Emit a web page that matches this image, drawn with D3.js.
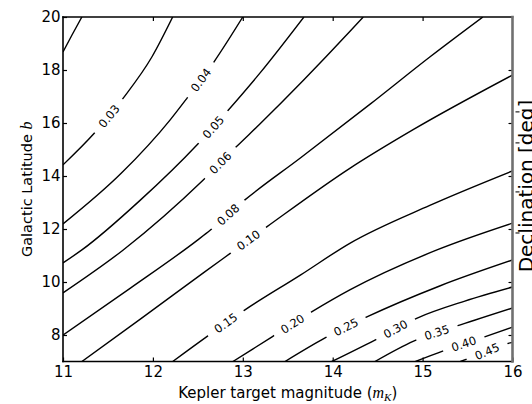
<!DOCTYPE html>
<html>
<head>
<meta charset="utf-8">
<script src="https://cdn.jsdelivr.net/npm/d3@7"></script>
<style>
  body { margin: 0; background: #fff; }
  svg { display: block; font-family: "DejaVu Sans", sans-serif; }
</style>
</head>
<body>
<svg id="chart" width="532" height="404"></svg>
<script>
// Contour levels of the fraction, and each level's traced line as [magnitude, galactic latitude]
const levels = [0.02, 0.03, 0.04, 0.05, 0.06, 0.08, 0.10, 0.15, 0.20, 0.25, 0.30, 0.35, 0.40, 0.45];

const line002 = [[11.00, 18.68], [11.10, 19.32], [11.21, 20.00]];
const line003 = [[11.00, 14.42], [11.35, 15.62], [11.67, 16.94], [11.99, 18.50], [12.22, 20.00]];
const line004 = [[11.00, 12.19], [11.65, 14.11], [12.19, 16.11], [12.38, 16.94], [12.68, 18.31], [13.00, 20.00]];
const line005 = [[11.00, 10.72], [11.21, 11.21], [11.86, 13.09], [12.50, 15.21], [12.84, 16.49], [13.19, 17.88], [13.68, 20.00]];
const line006 = [[11.00, 9.59], [11.67, 11.21], [12.56, 13.85], [12.93, 15.11], [13.19, 15.96], [14.19, 19.45], [14.34, 20.00]];
const line008 = [[11.00, 8.00], [11.75, 9.77], [12.50, 11.59], [12.64, 11.96], [13.02, 13.09], [13.64, 14.68], [14.42, 16.72], [15.08, 18.49], [15.67, 20.00]];
const line010 = [[11.21, 7.00], [11.86, 8.60], [12.58, 10.39], [12.86, 11.08], [13.27, 12.09], [14.19, 14.29], [14.89, 15.74], [16.00, 17.81]];
const line015 = [[12.22, 7.00], [12.60, 7.94], [13.02, 8.94], [13.64, 10.26], [14.19, 11.46], [15.08, 12.89], [16.00, 14.19]];
const line020 = [[12.89, 7.00], [13.33, 7.94], [13.77, 8.88], [14.19, 9.70], [15.16, 11.21], [16.00, 12.22]];
const line025 = [[13.47, 7.00], [13.91, 7.88], [14.38, 8.68], [15.19, 9.85], [16.00, 10.83]];
const line030 = [[13.99, 7.00], [14.47, 7.81], [14.94, 8.64], [15.47, 9.28], [16.00, 9.81]];
const line035 = [[14.47, 7.00], [14.90, 7.77], [15.42, 8.38], [16.00, 9.02]];
const line040 = [[14.92, 7.00], [15.23, 7.40], [15.69, 7.93], [16.00, 8.30]];
const line045 = [[15.42, 7.00], [15.71, 7.37], [15.88, 7.62], [16.00, 7.72]];

const contourLines = [line002, line003, line004, line005, line006, line008, line010,
                      line015, line020, line025, line030, line035, line040, line045];

// Where each inline level label sits: [level, magnitude, latitude]
const labelSpots = [
  [0.03, 11.51, 16.26], [0.04, 12.53, 17.62], [0.05, 12.67, 15.85], [0.06, 12.75, 14.49],
  [0.08, 12.84, 12.53], [0.10, 13.06, 11.59], [0.15, 12.81, 8.45], [0.20, 13.55, 8.42],
  [0.25, 14.15, 8.30], [0.30, 14.70, 8.23], [0.35, 15.16, 8.08], [0.40, 15.46, 7.66],
  [0.45, 15.72, 7.36]
];

// Axis ticks
const xTicks = [11, 12, 13, 14, 15, 16];
const yTicks = [8, 10, 12, 14, 16, 18, 20];
const declTickLat = [16.42, 15.25, 13.40, 11.85];

const W = 532, H = 404;
const plotLeft = 63, plotRight = 512.5, plotTop = 17, plotBottom = 361.5;

const svg = d3.select("#chart");
const x = d3.scaleLinear().domain([11, 16]).range([plotLeft, plotRight]);
const y = d3.scaleLinear().domain([7, 20]).range([plotBottom, plotTop]);

const defs = svg.append("defs");
defs.append("clipPath").attr("id", "plotClip")
  .append("rect").attr("x", plotLeft).attr("y", plotTop)
  .attr("width", plotRight - plotLeft).attr("height", plotBottom - plotTop);

const lineGen = d3.line()
  .x(d => x(d[0])).y(d => y(d[1]))
  .curve(d3.curveMonotoneX);

const plot = svg.append("g").attr("clip-path", "url(#plotClip)");
const labelLayer = svg.append("g")
  .attr("font-size", 11.5).attr("fill", "#000");

const fmt = d3.format(".2f");
const spotByLevel = new Map(labelSpots.map(s => [s[0], [s[1], s[2]]]));

levels.forEach((lv, i) => {
  const path = plot.append("path")
    .datum(contourLines[i])
    .attr("d", lineGen)
    .attr("fill", "none")
    .attr("stroke", "#000")
    .attr("stroke-width", 1.4)
    .attr("stroke-linecap", "butt");

  const spot = spotByLevel.get(lv);
  if (!spot) return;

  // snap the label onto the drawn line and follow its direction
  const node = path.node();
  const L = node.getTotalLength();
  const tx = x(spot[0]), ty = y(spot[1]);
  let best = 0, bd = Infinity;
  for (let s = 0; s <= L; s += 0.5) {
    const p = node.getPointAtLength(s);
    const d = (p.x - tx) ** 2 + (p.y - ty) ** 2;
    if (d < bd) { bd = d; best = s; }
  }
  const p = node.getPointAtLength(best);
  const a = node.getPointAtLength(Math.max(0, best - 5));
  const b = node.getPointAtLength(Math.min(L, best + 5));
  let ang = Math.atan2(b.y - a.y, b.x - a.x) * 180 / Math.PI;
  if (ang > 90) ang -= 180;
  if (ang < -90) ang += 180;

  const t = labelLayer.append("text")
    .attr("transform", `translate(${p.x},${p.y}) rotate(${ang})`)
    .attr("text-anchor", "middle")
    .attr("dy", "0.36em")
    .text(fmt(lv));
  const tw = t.node().getComputedTextLength();

  // cut a gap in the line under its label
  const gapW = tw + 18, gapH = 12;
  const m = defs.append("mask").attr("id", "gap" + i)
    .attr("maskUnits", "userSpaceOnUse")
    .attr("x", 0).attr("y", 0).attr("width", W).attr("height", H);
  m.append("rect").attr("x", 0).attr("y", 0).attr("width", W).attr("height", H).attr("fill", "#fff");
  m.append("rect")
    .attr("x", -gapW / 2).attr("y", -gapH / 2).attr("width", gapW).attr("height", gapH)
    .attr("transform", `translate(${p.x},${p.y}) rotate(${ang})`)
    .attr("fill", "#000");
  path.attr("mask", `url(#gap${i})`);
});

// Axes: inward ticks on all four sides
const tickStyle = g => {
  g.select(".domain").remove();
  g.selectAll(".tick line").attr("stroke", "#000").attr("stroke-width", 1.2);
  g.selectAll(".tick text").attr("font-family", "DejaVu Sans, sans-serif")
    .attr("font-size", 15).attr("fill", "#000");
};

svg.append("g").attr("transform", `translate(0,${plotBottom})`)
  .call(d3.axisBottom(x).tickValues(xTicks).tickFormat(d3.format("d"))
    .tickSizeInner(-4).tickSizeOuter(0).tickPadding(5))
  .call(tickStyle);

svg.append("g").attr("transform", `translate(0,${plotTop})`)
  .call(d3.axisTop(x).tickValues(xTicks.slice(1, -1)).tickFormat("")
    .tickSizeInner(-4).tickSizeOuter(0))
  .call(tickStyle);

svg.append("g").attr("transform", `translate(${plotLeft},0)`)
  .call(d3.axisLeft(y).tickValues(yTicks).tickFormat(d3.format("d"))
    .tickSizeInner(-4).tickSizeOuter(0).tickPadding(2.5))
  .call(tickStyle);

svg.append("g").attr("transform", `translate(${plotRight},0)`)
  .call(d3.axisRight(y).tickValues(yTicks.slice(0, -1)).tickFormat("")
    .tickSizeInner(-4).tickSizeOuter(0))
  .call(tickStyle);

// small outer ticks of the declination axis
svg.append("g").selectAll("line").data(declTickLat).join("line")
  .attr("x1", plotRight + 3).attr("x2", plotRight + 7)
  .attr("y1", d => y(d)).attr("y2", d => y(d))
  .attr("stroke", "#222").attr("stroke-width", 1.2);

// Spines
const spines = svg.append("g").attr("fill", "none").attr("stroke-linecap", "square");
spines.append("line").attr("x1", plotLeft).attr("x2", plotLeft).attr("y1", plotTop).attr("y2", plotBottom)
  .attr("stroke", "#000").attr("stroke-width", 1.6);
spines.append("line").attr("x1", plotLeft).attr("x2", plotRight).attr("y1", plotTop).attr("y2", plotTop)
  .attr("stroke", "#000").attr("stroke-width", 1.6);
spines.append("line").attr("x1", plotLeft).attr("x2", plotRight).attr("y1", plotBottom).attr("y2", plotBottom)
  .attr("stroke", "#000").attr("stroke-width", 1.6);
spines.append("line").attr("x1", plotRight).attr("x2", plotRight).attr("y1", plotTop).attr("y2", plotBottom)
  .attr("stroke", "#707070").attr("stroke-width", 2.6);

// Axis titles
const xTitle = svg.append("text")
  .attr("x", (plotLeft + plotRight) / 2).attr("y", 398)
  .attr("text-anchor", "middle").attr("font-size", 15).attr("fill", "#000");
xTitle.append("tspan").text("Kepler target magnitude (");
xTitle.append("tspan").attr("font-family", "Liberation Serif, serif").attr("font-style", "italic")
  .attr("font-size", 16).text("m");
xTitle.append("tspan").attr("font-family", "Liberation Serif, serif").attr("font-style", "italic")
  .attr("font-size", 11).attr("dy", 3).text("K");
xTitle.append("tspan").attr("dy", -3).text(")");

const yTitle = svg.append("text")
  .attr("transform", `translate(32,${(plotTop + plotBottom) / 2}) rotate(-90)`)
  .attr("text-anchor", "middle").attr("font-size", 14.5).attr("fill", "#000");
yTitle.append("tspan").text("Galactic Latitude ");
yTitle.append("tspan").attr("font-family", "Liberation Serif, serif").attr("font-style", "italic")
  .attr("font-size", 16).text("b");

svg.append("text")
  .attr("transform", `translate(533,186) rotate(-90)`)
  .attr("text-anchor", "middle").attr("font-size", 20).attr("fill", "#000")
  .text("Declination [deg]");
</script>
</body>
</html>
